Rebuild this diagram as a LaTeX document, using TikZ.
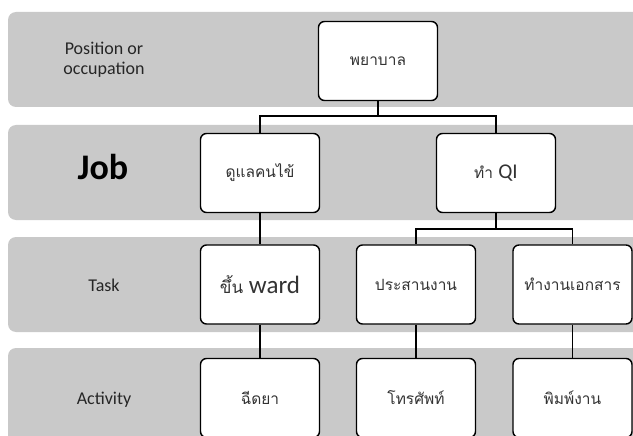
\documentclass[tikz,border=0pt]{standalone}
\usepackage{fontspec}
\setmainfont{Carlito}
\newfontfamily\thai[Script=Thai]{Loma}
\definecolor{bandgray}{RGB}{201,201,201}
\tikzset{
  band/.style={fill=bandgray, draw=none, rounded corners=8pt},
  rolebox/.style={draw=black, line width=1.4pt, fill=white, rounded corners=6pt,
    minimum width=119pt, minimum height=79pt, inner sep=0pt, font=\thai\fontsize{15.5}{18}\selectfont, text=black!80},
  lbl/.style={align=center, font=\fontsize{18}{20}\selectfont, text=black!85},
  link/.style={line width=1.4pt, black}
}
\begin{document}
\begin{tikzpicture}[x=1pt,y=-1pt]
\clip (0,0) rectangle (633,436);
\fill[white] (0,0) rectangle (633,436);
% bands
\path[band] (8,12) rectangle (660,107);
\path[band] (8,125) rectangle (660,220);
\path[band] (8,237) rectangle (660,332);
\path[band] (8,348) rectangle (660,470);
% row labels
\node[lbl] (l1) at (104,60) {Position or\\occupation};
\node[lbl, font=\bfseries\fontsize{36}{38}\selectfont, text=black] (l2) at (103,167) {Job};
\node[lbl] (l3) at (104,285) {Task};
\node[lbl] (l4) at (104,400) {Activity};
% boxes
\node[rolebox] (p) at (378,61) {พยาบาล};
\node[rolebox] (j1) at (260,173) {ดูแลคนไข้};
\node[rolebox] (j2) at (496,173) {ทำ {\fontspec{Carlito}\fontsize{21}{24}\selectfont QI}};
\node[rolebox] (t1) at (260,284.5) {\fontsize{17}{20}\selectfont ขึ้น {\fontspec{Carlito}\fontsize{25}{28}\selectfont ward}};
\node[rolebox] (t2) at (416,284.5) {ประสานงาน};
\node[rolebox] (t3) at (572.5,284.5) {ทำงานเอกสาร};
\node[rolebox] (a1) at (260,398) {ฉีดยา};
\node[rolebox] (a2) at (416,398) {โทรศัพท์};
\node[rolebox] (a3) at (572.5,398) {พิมพ์งาน};
% connectors
\coordinate (h1) at (378,116);
\coordinate (h2) at (496,229);
\draw[link] (p.south) -- (h1) -| (j1.north);
\draw[link] (h1) -| (j2.north);
\draw[link] (j1.south) -- (t1.north);
\draw[link] (j2.south) -- (h2) -| (t2.north);
\draw[link] (h2) -| (t3.north);
\draw[link] (t1.south) -- (a1.north);
\draw[link] (t2.south) -- (a2.north);
\draw[link] (t3.south) -- (a3.north);
\end{tikzpicture}
\end{document}
